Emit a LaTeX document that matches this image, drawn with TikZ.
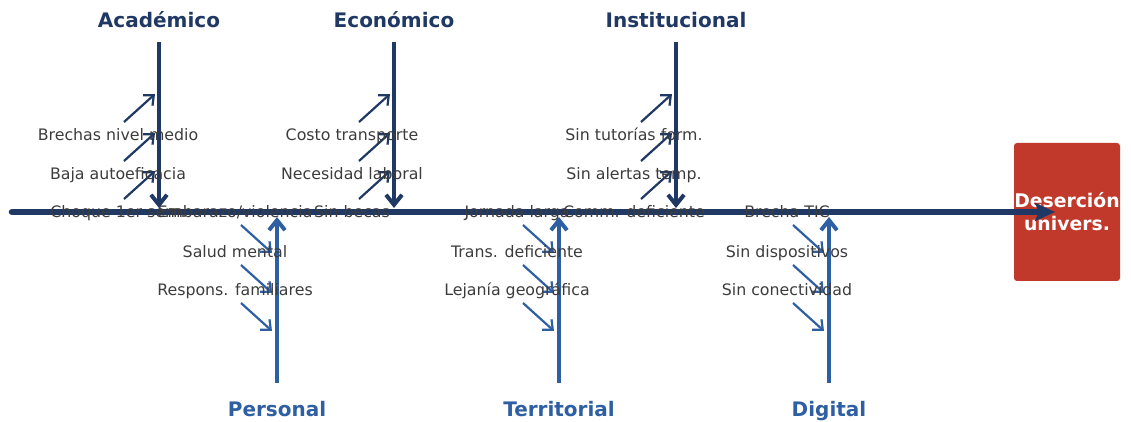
\documentclass[tikz,border=0pt]{standalone}
\usepackage{fontspec}
\setmainfont{DejaVu Sans}
\usetikzlibrary{arrows.meta}
\definecolor{navy}{HTML}{1F3864}
\definecolor{steel}{HTML}{2E5FA3}
\definecolor{txtgray}{HTML}{3C3C3C}
\definecolor{boxred}{HTML}{C0392B}

\begin{document}
\begin{tikzpicture}[x=0.5pt, y=-0.5pt,
	cat/.style = {font=\bfseries\fontsize{10}{12}\selectfont, inner sep=0pt, text height=7.3pt, text depth=0pt},
	cause/.style = {text=txtgray, font=\fontsize{7.9}{9.5}\selectfont, inner sep=0pt, text height=5.8pt, text depth=0pt},
	branch/.style = {line width=2pt, -{Straight Barb[length=5pt,width=8pt,line width=2pt]}},
	sub/.style = {line width=1.1pt, -{Straight Barb[length=4pt,width=7pt,line width=1.1pt]}}]
	\useasboundingbox (0,0) rectangle (1131,422);

	% effect box
	\node[fill=boxred, rounded corners=1.5pt, minimum width=53pt, minimum height=69pt,
		text=white, font=\bfseries\fontsize{9.4}{11.5}\selectfont, align=center, inner sep=0pt]
		(eff) at (1067,212) {Deserción\\univers.};

	% spine
	\coordinate (tail) at (12,212);
	\coordinate (head) at (1055,212);
	\draw[navy, line width=3.3pt, line cap=round, -{Stealth[length=10pt,width=9pt,inset=2pt]}] (tail) -- (head);

	% categories
	\node[cat, text=navy] (aca) at (159,20) {Académico};
	\node[cat, text=navy] (eco) at (394,20) {Económico};
	\node[cat, text=navy] (ins) at (676,20) {Institucional};
	\node[cat, text=steel] (per) at (277,409) {Personal};
	\node[cat, text=steel] (ter) at (559,409) {Territorial};
	\node[cat, text=steel] (dig) at (829,409) {Digital};

	\coordinate (aca1) at (159,42);  \coordinate (aca2) at (159,208);
	\coordinate (eco1) at (394,42);  \coordinate (eco2) at (394,208);
	\coordinate (ins1) at (676,42);  \coordinate (ins2) at (676,208);
	\coordinate (per1) at (277,383); \coordinate (per2) at (277,217);
	\coordinate (ter1) at (559,383); \coordinate (ter2) at (559,217);
	\coordinate (dig1) at (829,383); \coordinate (dig2) at (829,217);

	\draw[branch, navy] (aca1) -- (aca2);
	\draw[branch, navy] (eco1) -- (eco2);
	\draw[branch, navy] (ins1) -- (ins2);
	\draw[branch, steel] (per1) -- (per2);
	\draw[branch, steel] (ter1) -- (ter2);
	\draw[branch, steel] (dig1) -- (dig2);

	% small cause arrows
	\foreach \bx/\n in {159/a, 394/e, 676/i}
		\foreach \y [count=\k] in {135,174,212} {
			\coordinate (\n\k s) at (\bx-35,\y-13);
			\coordinate (\n\k e) at (\bx-4,\y-41);
			\draw[sub, navy] (\n\k s) -- (\n\k e);
		}
	\foreach \bx/\n in {277/p, 559/t, 829/d}
		\foreach \y [count=\k] in {212,252,290} {
			\coordinate (\n\k s) at (\bx-36,\y+13);
			\coordinate (\n\k e) at (\bx-5,\y+41);
			\draw[sub, steel] (\n\k s) -- (\n\k e);
		}

	% cause labels
	\node[cause] (a1) at (118,135) {Brechas nivel medio};
	\node[cause] (a2) at (118,174) {Baja autoeficacia};
	\node[cause] (a3) at (118,212) {Choque 1er sem.};
	\node[cause] (e1) at (352,135) {Costo transporte};
	\node[cause] (e2) at (352,174) {Necesidad laboral};
	\node[cause] (e3) at (352,212) {Sin becas};
	\node[cause] (i1) at (634,135) {Sin tutorías form.};
	\node[cause] (i2) at (634,174) {Sin alertas temp.};
	\node[cause] (i3) at (634,212) {Comm. deficiente};
	\node[cause] (p1) at (235,212) {Embarazo/violencia};
	\node[cause] (p2) at (235,252) {Salud mental};
	\node[cause] (p3) at (235,290) {Respons. familiares};
	\node[cause] (t1) at (517,212) {Jornada larga};
	\node[cause] (t2) at (517,252) {Trans. deficiente};
	\node[cause] (t3) at (517,290) {Lejanía geográfica};
	\node[cause] (d1) at (787,212) {Brecha TIC};
	\node[cause] (d2) at (787,252) {Sin dispositivos};
	\node[cause] (d3) at (787,290) {Sin conectividad};
\end{tikzpicture}
\end{document}
